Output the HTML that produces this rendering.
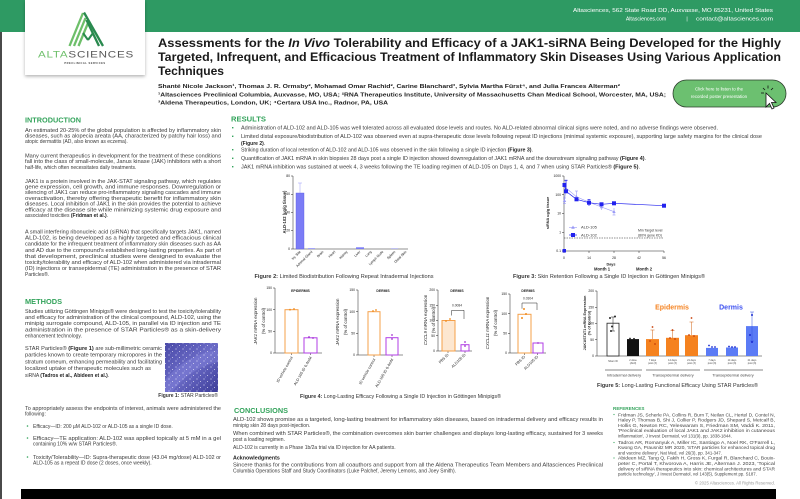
<!DOCTYPE html>
<html><head><meta charset="utf-8">
<style>
html,body{margin:0;padding:0;background:#fff;width:800px;height:499px;overflow:hidden}
svg{display:block}
text{font-family:"Liberation Sans",Arial,sans-serif}
.t{font-size:5px;fill:#3a3a3a}
.h{font-size:7px;font-weight:bold;fill:#33a35b}
.bo{font-weight:bold}
.ax{font-size:3.4px;fill:#222}
.cap{font-size:5px;fill:#333}
.ref{font-size:4.3px;fill:#444}
</style></head><body>
<svg width="800" height="499" viewBox="0 0 800 499" xmlns="http://www.w3.org/2000/svg">
<defs>
<pattern id="spk" width="7" height="6" patternUnits="userSpaceOnUse">
<circle cx="1" cy="1" r="0.6" fill="#e8e8ff"/><circle cx="4.5" cy="3.5" r="0.5" fill="#fff"/><circle cx="2.5" cy="5" r="0.4" fill="#d0d0ff"/>
</pattern>
<linearGradient id="pg" x1="0" y1="0" x2="1" y2="1"><stop offset="0" stop-color="#4a4aa8"/><stop offset="0.5" stop-color="#6b6bc6"/><stop offset="1" stop-color="#3c3c98"/></linearGradient>
<filter id="sh" x="-10%" y="-10%" width="130%" height="130%"><feDropShadow dx="0" dy="1.5" stdDeviation="1.5" flood-color="#000" flood-opacity="0.3"/></filter>
</defs>

<!-- header band -->
<rect x="0" y="0" width="800" height="32" fill="#2e9a63"/>
<rect x="0" y="32" width="2" height="467" fill="#4a4a4a"/>
<text x="773" y="12" text-anchor="end" font-size="5.2" fill="#fff" textLength="200" lengthAdjust="spacingAndGlyphs">Altasciences, 562 State Road DD, Auxvasse, MO 65231, United States</text>
<text x="646" y="20.3" text-anchor="middle" font-size="5.2" fill="#fff">Altasciences.com</text>
<text x="687" y="20.3" text-anchor="middle" font-size="5.2" fill="#fff">|</text>
<text x="773" y="20.3" text-anchor="end" font-size="5.2" fill="#fff" textLength="77" lengthAdjust="spacingAndGlyphs">contact@altasciences.com</text>

<!-- logo box -->
<rect x="25" y="0" width="120" height="75" fill="#fff" filter="url(#sh)"/>
<g stroke-linecap="butt">
<line x1="69.5" y1="46" x2="83" y2="13" stroke="#6dbf6a" stroke-width="2.3"/>
<line x1="74" y1="46" x2="85.5" y2="18" stroke="#6dbf6a" stroke-width="2.3"/>
<line x1="78.5" y1="46" x2="88" y2="23" stroke="#6dbf6a" stroke-width="2.3"/>
<line x1="84" y1="12.5" x2="103" y2="46" stroke="#2a8a4f" stroke-width="2.3"/>
<line x1="86.5" y1="20" x2="99" y2="46" stroke="#2a8a4f" stroke-width="2.3"/>
<line x1="83" y1="33" x2="88" y2="40" stroke="#2a8a4f" stroke-width="2"/>
<line x1="88" y1="40" x2="93" y2="33" stroke="#2a8a4f" stroke-width="2"/>
</g>
<text x="38" y="57.5" font-size="9" letter-spacing="0.6" textLength="96" lengthAdjust="spacingAndGlyphs"><tspan fill="#6dbf6a">ALTA</tspan><tspan fill="#555">SCIENCES</tspan></text>
<text x="85" y="64" text-anchor="middle" font-size="2.6" font-weight="bold" fill="#444" letter-spacing="0.5">PRECLINICAL SERVICES</text>

<!-- title -->
<g font-weight="bold" font-size="11.5" fill="#1a1a1a">
<text x="158" y="46.8" textLength="623" lengthAdjust="spacingAndGlyphs">Assessments for the <tspan font-style="italic">In Vivo</tspan> Tolerability and Efficacy of a JAK1-siRNA Being Developed for the Highly</text>
<text x="158" y="61" textLength="623" lengthAdjust="spacingAndGlyphs">Targeted, Infrequent, and Efficacious Treatment of Inflammatory Skin Diseases Using Various Application</text>
<text x="158" y="75" textLength="66" lengthAdjust="spacingAndGlyphs">Techniques</text>
</g>
<g font-weight="bold" font-size="5.3" fill="#222">
<text x="158" y="88" textLength="462" lengthAdjust="spacingAndGlyphs">Shanté Nicole Jackson¹, Thomas J. R. Ormsby², Mohamad Omar Rachid², Carine Blanchard³, Sylvia Martha Fürst⁴, and Julia Frances Alterman²</text>
<text x="158" y="96.7" textLength="508" lengthAdjust="spacingAndGlyphs">¹Altasciences Preclinical Columbia, Auxvasse, MO, USA; ²RNA Therapeutics Institute, University of Massachusetts Chan Medical School, Worcester, MA, USA;</text>
<text x="158" y="104.7" textLength="230" lengthAdjust="spacingAndGlyphs">³Aldena Therapeutics, London, UK; ⁴Certara USA Inc., Radnor, PA, USA</text>
</g>

<!-- button -->
<rect x="673" y="80" width="113" height="27" rx="13.5" fill="#6cc070" stroke="#2c3e2c" stroke-width="0.8"/>
<text x="719" y="90.5" text-anchor="middle" font-size="4.4" fill="#fff">Click here to listen to the</text>
<text x="719" y="98" text-anchor="middle" font-size="4.4" fill="#fff">recorded poster presentation</text>
<g stroke="#111" stroke-width="0.8">
<line x1="763" y1="88" x2="765" y2="90"/><line x1="768" y1="85.5" x2="768" y2="88.5"/><line x1="773" y1="88" x2="771" y2="90"/><line x1="761" y1="93" x2="764" y2="93"/>
</g>
<path d="M766,93 L766,107 L769.5,103.5 L772,109 L774,108 L771.5,102.5 L776,102.5 Z" fill="#fff" stroke="#111" stroke-width="0.8"/>

<!-- INTRODUCTION -->
<text class="h" x="25" y="122.5" textLength="56" lengthAdjust="spacingAndGlyphs">INTRODUCTION</text>
<g class="t">
<text x="25" y="131.8" textLength="196" lengthAdjust="spacingAndGlyphs">An estimated 20-25% of the global population is affected by inflammatory skin</text>
<text x="25" y="137.5" textLength="196" lengthAdjust="spacingAndGlyphs">diseases, such as alopecia areata (AA, characterized by patchy hair loss) and</text>
<text x="25" y="143.2">atopic dermatitis (AD, also known as eczema).</text>
<text x="25" y="157.5" textLength="196" lengthAdjust="spacingAndGlyphs">Many current therapeutics in development for the treatment of these conditions</text>
<text x="25" y="163.2" textLength="196" lengthAdjust="spacingAndGlyphs">fall into the class of small-molecule, Janus kinase (JAK) inhibitors with a short</text>
<text x="25" y="168.9">half-life, which often necessitates daily treatments.</text>
<text x="25" y="182.8" textLength="196" lengthAdjust="spacingAndGlyphs">JAK1 is a protein involved in the JAK-STAT signaling pathway, which regulates</text>
<text x="25" y="188.5" textLength="196" lengthAdjust="spacingAndGlyphs">gene expression, cell growth, and immune responses. Downregulation or</text>
<text x="25" y="194.2" textLength="196" lengthAdjust="spacingAndGlyphs">silencing of JAK1 can reduce pro-inflammatory signaling cascades and immune</text>
<text x="25" y="199.9" textLength="196" lengthAdjust="spacingAndGlyphs">overactivation, thereby offering therapeutic benefit for inflammatory skin</text>
<text x="25" y="205.6" textLength="196" lengthAdjust="spacingAndGlyphs">diseases. Local inhibition of JAK1 in the skin provides the potential to achieve</text>
<text x="25" y="211.3" textLength="196" lengthAdjust="spacingAndGlyphs">efficacy at the disease site while minimizing systemic drug exposure and</text>
<text x="25" y="217">associated toxicities <tspan class="bo" fill="#222">(Fridman et al.)</tspan>.</text>
<text x="25" y="233.5" textLength="196" lengthAdjust="spacingAndGlyphs">A small interfering ribonucleic acid (siRNA) that specifically targets JAK1, named</text>
<text x="25" y="239.6" textLength="196" lengthAdjust="spacingAndGlyphs">ALD-102, is being developed as a highly targeted and efficacious clinical</text>
<text x="25" y="245.7" textLength="196" lengthAdjust="spacingAndGlyphs">candidate for the infrequent treatment of inflammatory skin diseases such as AA</text>
<text x="25" y="251.8" textLength="196" lengthAdjust="spacingAndGlyphs">and AD due to the compound's established long-lasting properties. As part of</text>
<text x="25" y="257.9" textLength="196" lengthAdjust="spacingAndGlyphs">that development, preclinical studies were designed to evaluate the</text>
<text x="25" y="264" textLength="196" lengthAdjust="spacingAndGlyphs">toxicity/tolerability and efficacy of ALD-102 when administered via intradermal</text>
<text x="25" y="270.1" textLength="196" lengthAdjust="spacingAndGlyphs">(ID) injections or transepidermal (TE) administration in the presence of STAR</text>
<text x="25" y="276.2">Particles®.</text>
</g>

<!-- METHODS -->
<text class="h" x="25" y="304.2" textLength="37" lengthAdjust="spacingAndGlyphs">METHODS</text>
<g class="t">
<text x="25" y="312.8" textLength="196" lengthAdjust="spacingAndGlyphs">Studies utilizing Göttingen Minipigs® were designed to test the toxicity/tolerability</text>
<text x="25" y="319" textLength="196" lengthAdjust="spacingAndGlyphs">and efficacy for administration of the clinical compound, ALD-102, using the</text>
<text x="25" y="325.2" textLength="196" lengthAdjust="spacingAndGlyphs">minipig surrogate compound, ALD-105, in parallel via ID injection and TE</text>
<text x="25" y="331.4" textLength="196" lengthAdjust="spacingAndGlyphs">administration in the presence of STAR Particles® as a skin-delivery</text>
<text x="25" y="337.6">enhancement technology.</text>
<text x="25" y="349.8" textLength="137" lengthAdjust="spacingAndGlyphs">STAR Particles® <tspan class="bo" fill="#222">(Figure 1)</tspan> are sub-millimetric ceramic</text>
<text x="25" y="356.6" textLength="137" lengthAdjust="spacingAndGlyphs">particles known to create temporary micropores in the</text>
<text x="25" y="363.4" textLength="137" lengthAdjust="spacingAndGlyphs">stratum corneum, enhancing permeability and facilitating</text>
<text x="25" y="370.2" textLength="126" lengthAdjust="spacingAndGlyphs">localized uptake of therapeutic molecules such as</text>
<text x="25" y="377">siRNA <tspan class="bo" fill="#222">(Tadros et al., Abideen et al.)</tspan>.</text>
<text x="25" y="409.8" textLength="196" lengthAdjust="spacingAndGlyphs">To appropriately assess the endpoints of interest, animals were administered the</text>
<text x="25" y="415.5">following:</text>
<text x="33" y="427.8">Efficacy—ID: 200 µM ALD-102 or ALD-105 as a single ID dose.</text>
<text x="33" y="439.8" textLength="188" lengthAdjust="spacingAndGlyphs">Efficacy—TE application: ALD-102 was applied topically at 5 mM in a gel</text>
<text x="33" y="445.5">containing 10% w/w STAR Particles®.</text>
<text x="33" y="458.8" textLength="188" lengthAdjust="spacingAndGlyphs">Toxicity/Tolerability—ID: Supra-therapeutic dose (43.04 mg/dose) ALD-102 or</text>
<text x="33" y="464.5">ALD-105 as a repeat ID dose (2 doses, once weekly).</text>
</g>
<g fill="#33a35b"><circle cx="27.5" cy="426" r="0.8"/><circle cx="27.5" cy="438" r="0.8"/><circle cx="27.5" cy="457" r="0.8"/></g>
<!-- figure 1 image -->
<rect x="165" y="343" width="53" height="49" fill="url(#pg)"/>
<path d="M165,380 Q185,355 218,350 L218,362 Q190,368 172,392 L165,392 Z" fill="#8080d8" opacity="0.5"/>
<rect x="165" y="343" width="53" height="49" fill="url(#spk)" opacity="0.8"/>
<text class="cap" x="218" y="396.8" text-anchor="end"><tspan class="bo">Figure 1:</tspan> STAR Particles®</text>

<!-- RESULTS -->
<text class="h" x="231" y="121.5" textLength="35" lengthAdjust="spacingAndGlyphs">RESULTS</text>
<g fill="#33a35b"><rect x="232" y="127" width="1.4" height="1.4"/><rect x="232" y="135.6" width="1.4" height="1.4"/><rect x="232" y="149" width="1.4" height="1.4"/><rect x="232" y="157.6" width="1.4" height="1.4"/><rect x="232" y="166" width="1.4" height="1.4"/></g>
<g class="t">
<text x="241" y="129.5" textLength="477" lengthAdjust="spacingAndGlyphs">Administration of ALD-102 and ALD-105 was well tolerated across all evaluated dose levels and routes. No ALD-related abnormal clinical signs were noted, and no adverse findings were observed.</text>
<text x="241" y="138.1" textLength="521" lengthAdjust="spacingAndGlyphs">Limited distal exposure/biodistribution of ALD-102 was observed even at supra-therapeutic dose levels following repeat ID injections (minimal systemic exposure), supporting large safety margins for the clinical dose</text>
<text x="241" y="144.8" class="bo" fill="#222">(Figure 2)<tspan font-weight="normal">.</tspan></text>
<text x="241" y="151.5" textLength="292" lengthAdjust="spacingAndGlyphs">Striking duration of local retention of ALD-102 and ALD-105 was observed in the skin following a single ID injection <tspan class="bo" fill="#222">(Figure 3)</tspan>.</text>
<text x="241" y="160.1" textLength="405" lengthAdjust="spacingAndGlyphs">Quantification of JAK1 mRNA in skin biopsies 28 days post a single ID injection showed downregulation of JAK1 mRNA and the downstream signaling pathway <tspan class="bo" fill="#222">(Figure 4)</tspan>.</text>
<text x="241" y="168.5" textLength="399" lengthAdjust="spacingAndGlyphs">JAK1 mRNA inhibition was sustained at week 4, 3 weeks following the TE loading regimen of ALD-105 on Days 1, 4, and 7 when using STAR Particles® <tspan class="bo" fill="#222">(Figure 5)</tspan>.</text>
</g>

<!-- FIGURE 2 -->
<g stroke="#222" stroke-width="0.5" fill="none">
<line x1="293" y1="176" x2="293" y2="249"/><line x1="293" y1="249" x2="408" y2="249"/>
<line x1="291" y1="176" x2="293" y2="176"/><line x1="291" y1="194.25" x2="293" y2="194.25"/><line x1="291" y1="212.5" x2="293" y2="212.5"/><line x1="291" y1="230.75" x2="293" y2="230.75"/><line x1="291" y1="249" x2="293" y2="249"/>
</g>
<g class="ax" text-anchor="end" font-size="2.8">
<text x="290" y="177">80</text><text x="290" y="195.2">60</text><text x="290" y="213.5">40</text><text x="290" y="231.7">20</text><text x="290" y="250">0</text>
</g>
<text transform="translate(286,212) rotate(-90)" text-anchor="middle" font-size="4.2" font-weight="bold" fill="#222">ALD-102 (µg/g tissue)</text>
<rect x="296" y="193" width="8" height="56" fill="#7b7cf6" stroke="#5a5ae0" stroke-width="0.4"/>
<g stroke="#9a9af8" stroke-width="0.5"><line x1="300" y1="193" x2="300" y2="183"/><line x1="298" y1="183" x2="302" y2="183"/></g>
<rect x="308" y="248.3" width="7" height="0.7" fill="#7b7cf6"/>
<rect x="356" y="247.3" width="8" height="1.7" fill="#7b7cf6"/>
<rect x="391" y="248.6" width="7" height="0.4" fill="#7b7cf6"/>
<g class="ax" font-size="2.8" text-anchor="end">
<text transform="translate(301,252) rotate(-45)">Inj. Site</text>
<text transform="translate(312.7,252) rotate(-45)">Adrenal Gland</text>
<text transform="translate(323.8,252) rotate(-45)">Brain</text>
<text transform="translate(335.6,252) rotate(-45)">Heart</text>
<text transform="translate(347.8,252) rotate(-45)">Kidney</text>
<text transform="translate(360.7,252) rotate(-45)">Liver</text>
<text transform="translate(371.8,252) rotate(-45)">Lung</text>
<text transform="translate(383.6,252) rotate(-45)">Lymph Node</text>
<text transform="translate(395.7,252) rotate(-45)">Spleen</text>
<text transform="translate(406.8,252) rotate(-45)">Distal Skin</text>
</g>
<text class="cap" x="254.5" y="277.8" textLength="179" lengthAdjust="spacingAndGlyphs"><tspan class="bo">Figure 2:</tspan>  Limited Biodistribution Following Repeat Intradermal Injections</text>

<!-- FIGURE 3 -->
<g stroke="#222" stroke-width="0.5" fill="none">
<line x1="564" y1="176" x2="564" y2="251"/><line x1="564" y1="251" x2="664" y2="251"/>
<line x1="562" y1="176" x2="564" y2="176"/><line x1="562" y1="194.75" x2="564" y2="194.75"/><line x1="562" y1="213.5" x2="564" y2="213.5"/><line x1="562" y1="232.25" x2="564" y2="232.25"/><line x1="562" y1="251" x2="564" y2="251"/>
<line x1="564" y1="251" x2="564" y2="253"/><line x1="589" y1="251" x2="589" y2="253"/><line x1="614" y1="251" x2="614" y2="253"/><line x1="639" y1="251" x2="639" y2="253"/><line x1="664" y1="251" x2="664" y2="253"/>
</g>
<g class="ax" text-anchor="end"><text x="561" y="177.2">1000</text><text x="561" y="196">100</text><text x="561" y="214.7">10</text><text x="561" y="233.5">1</text><text x="561" y="252.2">0.1</text></g>
<g class="ax" text-anchor="middle"><text x="564" y="259">0</text><text x="589" y="259">14</text><text x="614" y="259">28</text><text x="639" y="259">42</text><text x="664" y="259">56</text></g>
<text x="611" y="265.5" text-anchor="middle" font-size="3.8" font-weight="bold" fill="#222">Days</text>
<text x="602" y="270.5" text-anchor="middle" font-size="4.2" font-weight="bold" fill="#222">Month 1</text>
<text x="644" y="270.5" text-anchor="middle" font-size="4.2" font-weight="bold" fill="#222">Month 2</text>
<text transform="translate(549,213) rotate(-90)" text-anchor="middle" font-size="3.8" font-weight="bold" fill="#222">siRNA ug/g tissue</text>
<!-- ALD-105 light -->
<g stroke="#9a9af6" stroke-width="0.6" fill="none">
<polyline points="564.5,200.7 566,188 576.5,196.8 589,202.2 601.5,207 614,211.7"/>
<line x1="566" y1="188" x2="566" y2="180"/><line x1="564.5" y1="180" x2="567.5" y2="180"/>
<line x1="576.5" y1="196.8" x2="576.5" y2="191"/><line x1="575" y1="191" x2="578" y2="191"/>
<line x1="564.5" y1="198" x2="564.5" y2="203.5"/><line x1="563" y1="198" x2="566" y2="198"/><line x1="563" y1="203.5" x2="566" y2="203.5"/>
<line x1="601.5" y1="204" x2="601.5" y2="210"/><line x1="600" y1="204" x2="603" y2="204"/>
<line x1="614" y1="208" x2="614" y2="215"/><line x1="612.5" y1="215" x2="615.5" y2="215"/>
</g>
<g fill="#9a9af6">
<path d="M564.5,199 l1.7,3 h-3.4z"/><path d="M576.5,195 l1.7,3 h-3.4z"/><path d="M589,200.5 l1.7,3 h-3.4z"/><path d="M601.5,205.3 l1.7,3 h-3.4z"/><path d="M614,210 l1.7,3 h-3.4z"/>
</g>
<!-- ALD-102 dark -->
<g stroke="#2222ee" stroke-width="0.7" fill="none">
<polyline points="564.5,185 566,191.3 576.5,199.3 589,202.7 601.5,204.3 614,203.3 664,205.7"/>
<line x1="566" y1="191" x2="566" y2="180.5"/><line x1="564.5" y1="180.5" x2="567.5" y2="180.5"/>
<line x1="589" y1="199.5" x2="589" y2="206"/><line x1="587.5" y1="199.5" x2="590.5" y2="199.5"/>
</g>
<g fill="#2222ee">
<rect x="562.5" y="183" width="4" height="4"/><rect x="564" y="189.3" width="4" height="4"/><rect x="574.5" y="197.3" width="4" height="4"/><rect x="587" y="200.7" width="4" height="4"/><rect x="599.5" y="202.3" width="4" height="4"/><rect x="612" y="201.3" width="4" height="4"/><rect x="662" y="203.7" width="4" height="4"/><rect x="562.5" y="249" width="3.5" height="3.5"/>
</g>
<line x1="564" y1="238" x2="664" y2="238" stroke="#222" stroke-width="0.5" stroke-dasharray="1.5,1"/>
<line x1="569" y1="227.3" x2="577" y2="227.3" stroke="#9a9af6" stroke-width="0.6"/><path d="M573,225.5 l1.8,3.2 h-3.6z" fill="#9a9af6"/>
<text x="581" y="228.6" font-size="4" fill="#333">ALD-105</text>
<line x1="569" y1="235" x2="577" y2="235" stroke="#2222ee" stroke-width="0.7"/><rect x="571" y="233" width="4" height="4" fill="#2222ee"/>
<text x="581" y="236.3" font-size="4" fill="#333">ALD-102</text>
<text x="638" y="231.3" font-size="3.5" fill="#333">Min Target level</text>
<text x="638" y="236.6" font-size="3.5" fill="#333">(80% gene KD)</text>
<text class="cap" x="513" y="277.8" textLength="192" lengthAdjust="spacingAndGlyphs"><tspan class="bo">Figure 3:</tspan> Skin Retention Following a Single ID Injection in Göttingen Minipigs®</text>

<!-- FIGURE 4 -->
<g stroke="#222" stroke-width="0.5" fill="none">
<!-- A -->
<line x1="275" y1="288" x2="275" y2="353"/><line x1="275" y1="353" x2="322" y2="353"/>
<line x1="273" y1="288" x2="275" y2="288"/><line x1="273" y1="309.7" x2="275" y2="309.7"/><line x1="273" y1="331.3" x2="275" y2="331.3"/><line x1="273" y1="353" x2="275" y2="353"/>
<line x1="291.5" y1="353" x2="291.5" y2="355"/><line x1="310.5" y1="353" x2="310.5" y2="355"/>
<!-- B -->
<line x1="358" y1="290" x2="358" y2="355"/><line x1="358" y1="355" x2="403" y2="355"/>
<line x1="356" y1="290" x2="358" y2="290"/><line x1="356" y1="311.7" x2="358" y2="311.7"/><line x1="356" y1="333.3" x2="358" y2="333.3"/><line x1="356" y1="355" x2="358" y2="355"/>
<line x1="374" y1="355" x2="374" y2="357"/><line x1="392" y1="355" x2="392" y2="357"/>
<!-- C -->
<line x1="438" y1="290" x2="438" y2="351"/><line x1="438" y1="351" x2="472" y2="351"/>
<line x1="436" y1="290" x2="438" y2="290"/><line x1="436" y1="305.25" x2="438" y2="305.25"/><line x1="436" y1="320.5" x2="438" y2="320.5"/><line x1="436" y1="335.75" x2="438" y2="335.75"/><line x1="436" y1="351" x2="438" y2="351"/>
<line x1="448" y1="351" x2="448" y2="353"/><line x1="465" y1="351" x2="465" y2="353"/>
<path d="M451.7,315.5 V310.3 H464 V319"/>
<!-- D -->
<line x1="510" y1="294" x2="510" y2="353"/><line x1="510" y1="353" x2="546" y2="353"/>
<line x1="508" y1="294" x2="510" y2="294"/><line x1="508" y1="313.7" x2="510" y2="313.7"/><line x1="508" y1="333.3" x2="510" y2="333.3"/><line x1="508" y1="353" x2="510" y2="353"/>
<line x1="524.5" y1="353" x2="524.5" y2="355"/><line x1="537.5" y1="353" x2="537.5" y2="355"/>
<path d="M522,308.7 V303 H537 V310"/>
</g>
<g class="ax" text-anchor="end">
<text x="272" y="289.2">150</text><text x="272" y="310.9">100</text><text x="272" y="332.5">50</text><text x="272" y="354.2">0</text>
<text x="355" y="291.2">150</text><text x="355" y="312.9">100</text><text x="355" y="334.5">50</text><text x="355" y="356.2">0</text>
<text x="435" y="291.2">200</text><text x="435" y="306.4">150</text><text x="435" y="321.7">100</text><text x="435" y="337">50</text><text x="435" y="352.2">0</text>
<text x="507" y="295.2">150</text><text x="507" y="314.9">100</text><text x="507" y="334.5">50</text><text x="507" y="354.2">0</text>
</g>
<g font-size="3.4" font-weight="bold" fill="#222" text-anchor="middle">
<text x="300.5" y="292.2">EPIDERMIS</text><text x="383" y="292.2">DERMIS</text><text x="457" y="292.2">DERMIS</text><text x="528" y="292.2">DERMIS</text>
</g>
<g font-size="3.3" fill="#333" text-anchor="middle"><text x="457" y="306.5">0.0084</text><text x="528" y="299.3">0.0304</text></g>
<g fill="#fff" stroke-width="1">
<rect x="285" y="309.7" width="13" height="43.3" stroke="#f5a04a"/>
<rect x="304" y="337.8" width="13" height="15.2" stroke="#b23ee6"/>
<rect x="368" y="311.7" width="12" height="43.3" stroke="#f5a04a"/>
<rect x="386" y="337.7" width="12" height="17.3" stroke="#b23ee6"/>
<rect x="442" y="320.5" width="13" height="30.5" stroke="#f5a04a" fill="#fde7d0"/>
<rect x="461" y="344.7" width="8" height="6.3" stroke="#b23ee6"/>
<rect x="518" y="314.3" width="13" height="38.7" stroke="#f5a04a"/>
<rect x="533" y="343" width="10" height="10" stroke="#b23ee6"/>
</g>
<g fill="#f08c1e"><circle cx="290" cy="309.7" r="0.9"/><circle cx="294" cy="309" r="0.9"/><circle cx="373" cy="311" r="0.9"/><circle cx="376" cy="310" r="0.9"/><circle cx="446" cy="321" r="0.9"/><circle cx="450" cy="319" r="0.9"/><circle cx="524" cy="309" r="1"/><circle cx="522" cy="318" r="1"/><circle cx="526" cy="314" r="1"/></g>
<g fill="#a030d0"><circle cx="309" cy="337" r="0.9"/><circle cx="313" cy="338" r="0.9"/><circle cx="392" cy="335" r="0.9"/><circle cx="392" cy="339" r="0.9"/><circle cx="465" cy="342" r="0.9"/><circle cx="465" cy="346" r="0.9"/><circle cx="538" cy="343" r="0.9"/></g>
<g font-size="4.4" fill="#222" text-anchor="middle">
<text transform="translate(257,321) rotate(-90)"><tspan font-style="italic">JAK1</tspan> mRNA expression</text>
<text transform="translate(265,321) rotate(-90)">(% of control)</text>
<text transform="translate(339,322) rotate(-90)"><tspan font-style="italic">JAK1</tspan> mRNA expression</text>
<text transform="translate(347,322) rotate(-90)">(% of control)</text>
<text transform="translate(427,320) rotate(-90)"><tspan font-style="italic">CXCL9</tspan> mRNA expression</text>
<text transform="translate(435,320) rotate(-90)">(% of control)</text>
<text transform="translate(489,323) rotate(-90)"><tspan font-style="italic">CXCL11</tspan> mRNA expression</text>
<text transform="translate(497,323) rotate(-90)">(% of control)</text>
</g>
<g font-size="3.8" fill="#222" text-anchor="end">
<text transform="translate(293,357.5) rotate(-60)">ID vehicle control</text>
<text transform="translate(312,357.5) rotate(-60)">ALD-105 ID 0.4mM</text>
<text transform="translate(375.5,359.5) rotate(-60)">ID vehicle control</text>
<text transform="translate(393.5,359.5) rotate(-60)">ALD-105 ID 0.4mM</text>
<text transform="translate(449,355) rotate(-45)">PBS ID</text>
<text transform="translate(466,355) rotate(-45)">ALD105 ID</text>
<text transform="translate(525.5,357) rotate(-45)">PBS ID</text>
<text transform="translate(538.5,357) rotate(-45)">ALD105 ID</text>
</g>
<text class="cap" x="300" y="397.8" textLength="201" lengthAdjust="spacingAndGlyphs"><tspan class="bo">Figure 4:</tspan> Long-Lasting Efficacy Following a Single ID Injection in Göttingen Minipigs®</text>

<!-- FIGURE 5 -->
<g stroke="#222" stroke-width="0.5" fill="none">
<line x1="597" y1="291" x2="597" y2="356"/><line x1="597" y1="356" x2="762" y2="356"/>
<line x1="595" y1="291" x2="597" y2="291"/><line x1="595" y1="307.25" x2="597" y2="307.25"/><line x1="595" y1="323.5" x2="597" y2="323.5"/><line x1="595" y1="339.75" x2="597" y2="339.75"/><line x1="595" y1="356" x2="597" y2="356"/>
</g>
<g class="ax" text-anchor="end"><text x="594" y="292.2">200</text><text x="594" y="308.4">150</text><text x="594" y="324.7">100</text><text x="594" y="341">50</text><text x="594" y="357.2">0</text></g>
<g font-size="3.7" font-weight="bold" fill="#222" text-anchor="middle">
<text transform="translate(586,323) rotate(-90)">JAK1/STAT1 mRNA Expression</text>
<text transform="translate(590.5,323) rotate(-90)">(% of Control)</text>
</g>
<rect x="607" y="323.2" width="12" height="32.8" fill="#fff" stroke="#222" stroke-width="0.8"/>
<rect x="627" y="339.1" width="12" height="16.9" fill="#111"/>
<rect x="646" y="339.1" width="13" height="16.9" fill="#f5821f"/>
<rect x="666" y="337.8" width="13" height="18.2" fill="#f5821f"/>
<rect x="685" y="335.2" width="13" height="20.8" fill="#f5821f"/>
<rect x="706" y="347.9" width="12" height="8.1" fill="#5b7bf5"/>
<rect x="726" y="347.5" width="12" height="8.5" fill="#5b7bf5"/>
<rect x="746" y="326.1" width="12" height="29.9" fill="#5b7bf5"/>
<g stroke-width="0.5" fill="none">
<path d="M613,323 V317 M611,317 H615 M613,323 V331 M611,331 H615" stroke="#222"/>
<path d="M652.5,339 V330 M650.5,330 H654.5" stroke="#d06010"/>
<path d="M672.5,338 V330.5 M670.5,330.5 H674.5" stroke="#d06010"/>
<path d="M691.5,335 V322 M689.5,322 H693.5" stroke="#d06010"/>
<path d="M752,326 V312 M750,312 H754 M752,326 V341 M750,341 H754" stroke="#3050e0"/>
</g>
<g fill="#222"><circle cx="610" cy="318" r="1"/><circle cx="615" cy="316.5" r="1"/><circle cx="612" cy="326.5" r="1"/><circle cx="611" cy="331" r="1"/><circle cx="630" cy="338.5" r="0.9"/><circle cx="634" cy="338.8" r="0.9"/></g>
<g fill="#c8400a"><circle cx="652.5" cy="327" r="0.9"/><circle cx="650" cy="341" r="0.9"/><circle cx="655" cy="344" r="0.9"/><circle cx="672.5" cy="330" r="0.9"/><circle cx="670" cy="338" r="0.9"/><circle cx="675" cy="339" r="0.9"/><circle cx="691.5" cy="318" r="0.9"/><circle cx="689" cy="335" r="0.9"/><circle cx="694" cy="336" r="0.9"/></g>
<g fill="#1a2ad0"><circle cx="709" cy="345.5" r="0.9"/><circle cx="712" cy="347" r="0.9"/><circle cx="715" cy="347" r="0.9"/><circle cx="729" cy="346.5" r="0.9"/><circle cx="732" cy="347" r="0.9"/><circle cx="735" cy="347" r="0.9"/><circle cx="752" cy="315" r="1"/><circle cx="750" cy="335" r="1"/><circle cx="752" cy="342" r="1"/></g>
<text x="672" y="309.5" text-anchor="middle" font-size="7" font-weight="bold" fill="#f5821f">Epidermis</text>
<text x="731" y="309.5" text-anchor="middle" font-size="7" font-weight="bold" fill="#3b4ff0">Dermis</text>
<g font-size="2.5" fill="#444" text-anchor="middle">
<text x="613" y="362">Sham ID</text>
<text x="633" y="361">2 dose</text><text x="633" y="364">(ALD)</text>
<text x="652.5" y="361">7 days</text><text x="652.5" y="364">post (3)</text>
<text x="672.5" y="361">14 days</text><text x="672.5" y="364">post (3)</text>
<text x="691.5" y="361">21 days</text><text x="691.5" y="364">post (3)</text>
<text x="712" y="361">7 days</text><text x="712" y="364">post (3)</text>
<text x="732" y="361">14 days</text><text x="732" y="364">post (3)</text>
<text x="752" y="361">21 days</text><text x="752" y="364">post (3)</text>
</g>
<g stroke="#888" stroke-width="1"><line x1="605" y1="370" x2="642" y2="370"/><line x1="646" y1="370" x2="700" y2="370"/><line x1="704" y1="370" x2="763" y2="370"/></g>
<g font-size="3.9" fill="#444" text-anchor="middle"><text x="624" y="376.5">Intradermal delivery</text><text x="673" y="376.5">Transepidermal delivery</text><text x="733" y="376.5">Transepidermal delivery</text></g>
<text class="cap" x="597" y="386.8" textLength="161" lengthAdjust="spacingAndGlyphs"><tspan class="bo">Figure 5:</tspan>  Long-Lasting Functional Efficacy Using STAR Particles®</text>

<!-- CONCLUSIONS -->
<text class="h" x="234" y="413" textLength="54" lengthAdjust="spacingAndGlyphs">CONCLUSIONS</text>
<g class="t">
<text x="233" y="420.8" textLength="370" lengthAdjust="spacingAndGlyphs">ALD-102 shows promise as a targeted, long-lasting treatment for inflammatory skin diseases, based on intradermal delivery and efficacy results in</text>
<text x="233" y="426.8">minipig skin 28 days post-injection.</text>
<text x="233" y="434.8" textLength="370" lengthAdjust="spacingAndGlyphs">When combined with STAR Particles®, the combination overcomes skin barrier challenges and displays long-lasting efficacy, sustained for 3 weeks</text>
<text x="233" y="440.8">post a loading regimen.</text>
<text x="233" y="448.8">ALD-102 is currently in a Phase 1b/2a trial via ID injection for AA patients.</text>
<text x="233" y="459.3" class="bo" fill="#222" font-size="5.3">Acknowledgments</text>
<text x="233" y="466.3" textLength="370" lengthAdjust="spacingAndGlyphs">Sincere thanks for the contributions from all coauthors and support from all the Aldena Therapeutics Team Members and Altasciences Preclinical</text>
<text x="233" y="472.3">Columbia Operations Staff and Study Coordinators (Luke Palchef, Jeremy Lemons, and Joey Smith).</text>
</g>

<!-- REFERENCES -->
<text x="613" y="410" font-size="4.6" font-weight="bold" fill="#33a35b">REFERENCES</text>
<g fill="#33a35b"><circle cx="614" cy="414.5" r="0.6"/><circle cx="614" cy="442.5" r="0.6"/><circle cx="614" cy="458" r="0.6"/></g>
<g class="ref">
<text x="618" y="416.3" textLength="157" lengthAdjust="spacingAndGlyphs">Fridman JS, Scherle PA, Collins R, Burn T, Neilan CL, Hertel D, Contel N,</text>
<text x="618" y="421.6" textLength="157" lengthAdjust="spacingAndGlyphs">Haley P, Thomas B, Shi J, Collier P, Rodgers JD, Shepard S, Metcalf B,</text>
<text x="618" y="426.9" textLength="157" lengthAdjust="spacingAndGlyphs">Hollis G, Newton RC, Yeleswaram S, Friedman SM, Vaddi K. 2011,</text>
<text x="618" y="432.2" textLength="157" lengthAdjust="spacingAndGlyphs">'Preclinical evaluation of local JAK1 and JAK2 inhibition in cutaneous</text>
<text x="618" y="437.5">inflammation', J Invest Dermatol, vol 131(9), pp. 1838-1844.</text>
<text x="618" y="443.8" textLength="157" lengthAdjust="spacingAndGlyphs">Tadros AR, Romanyuk A, Miller IC, Santiago A, Noel RK, O'Farrell L,</text>
<text x="618" y="449.1" textLength="157" lengthAdjust="spacingAndGlyphs">Kwong GA, Prausnitz MR 2020, 'STAR particles for enhanced topical drug</text>
<text x="618" y="454.4">and vaccine delivery', Nat Med, vol 26(3), pp. 341-347.</text>
<text x="618" y="459.7" textLength="157" lengthAdjust="spacingAndGlyphs">Abideen MZ, Tang Q, Fakih H, Gross K, Furgal R, Blanchard C, Bouix-</text>
<text x="618" y="465" textLength="157" lengthAdjust="spacingAndGlyphs">peter C, Portal T, Khvorova A, Harris JE, Alterman J. 2023, 'Topical</text>
<text x="618" y="470.3" textLength="157" lengthAdjust="spacingAndGlyphs">delivery of siRNA therapeutics into skin: chemical architectures and STAR</text>
<text x="618" y="475.6">particle technology', J Invest Dermatol, vol 143(5), Supplement pp. S187.</text>
</g>
<text x="775" y="484.5" text-anchor="end" font-size="4.3" fill="#9a9a9a">© 2025 Altasciences. All Rights Reserved.</text>

<!-- bottom bar -->
<rect x="21" y="489" width="755" height="10" fill="#000"/>
</svg>
</body></html>
